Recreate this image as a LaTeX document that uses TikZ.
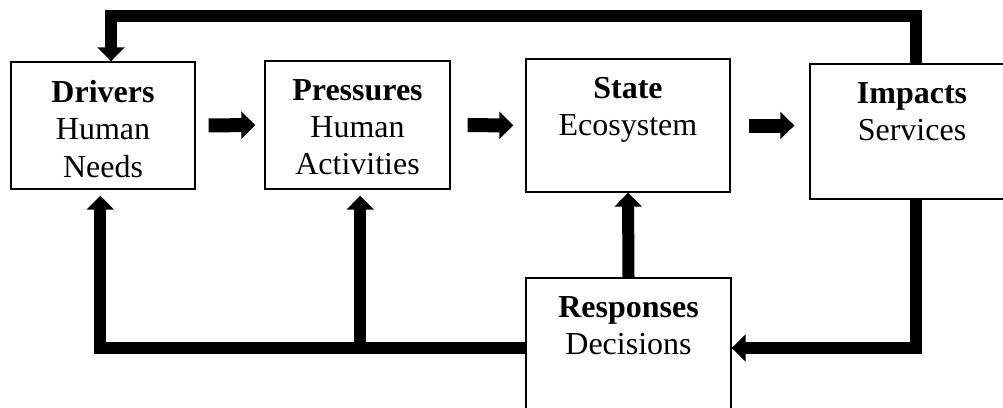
\documentclass[tikz,border=0pt]{standalone}
\usepackage{fontspec}
\setmainfont{Liberation Serif}
\usetikzlibrary{positioning,arrows.meta}

\begin{document}
\begin{tikzpicture}[x=0.75pt,y=-0.75pt,
  box/.style={draw,line width=1pt,inner sep=0pt},
  txt/.style={align=center,inner sep=0pt,font=\fontsize{24}{28}\selectfont},
  flow/.style={line width=9pt,-{Triangle[length=10.5pt,width=20pt]}},
  push/.style={line width=10.5pt,-{Triangle[length=10.5pt,width=20pt]}}]
  \useasboundingbox (0,0) rectangle (1003,407);
  \clip (0,0) rectangle (1003,407);
  % boxes
  \node[box,minimum width=138pt,minimum height=95.25pt] (drivers) at (103,125.5) {};
  \node[box,minimum width=138.75pt,minimum height=96pt] (pressures) at (357.5,125) {};
  \node[box,minimum width=153pt,minimum height=99.75pt] (state) at (628,125.5) {};
  \node[box,minimum width=153pt,minimum height=101.25pt] (impacts) at (912,131.5) {};
  \node[box,minimum width=153.75pt,minimum height=105pt] (responses) at (628.5,348) {};
  % labels
  \node[txt,below=14pt of drivers.north] (drivers-t) {\textbf{Drivers}\\Human\\Needs};
  \node[txt,below=14pt of pressures.north] (pressures-t) {\textbf{Pressures}\\Human\\Activities};
  \node[txt,below=14pt of state.north] (state-t) {\textbf{State}\\Ecosystem};
  \node[txt,below=14pt of impacts.north] (impacts-t) {\textbf{Impacts}\\Services};
  \node[txt,below=14pt of responses.north] (responses-t) {\textbf{Responses}\\Decisions};
  % chain
  \draw[push,shorten <=9.75pt,shorten >=6.75pt] (drivers.east) -- (pressures.west);
  \draw[push,shorten <=12.75pt,shorten >=9pt] (pressures.east) -- (state.west);
  \draw[push,shorten <=13.5pt,shorten >=11.25pt] (state.east) -- (state.east -| impacts.west);
  % feedback
  \draw[flow] ([xshift=3pt]impacts.north) -- ++(0,-47) -| ([xshift=6pt]drivers.north);
  \draw[flow] ([xshift=3pt]impacts.south) |- (responses.east);
  \draw[flow] (responses.north) -- (state.south);
  \draw[flow,shorten >=4.5pt] (responses.west) -| ([xshift=-2pt]drivers.south);
  \coordinate (split) at (responses.west -| pressures.south);
  \draw[flow,shorten >=4.5pt] ([xshift=2pt]split) -- ([xshift=2pt]pressures.south);
\end{tikzpicture}
\end{document}
